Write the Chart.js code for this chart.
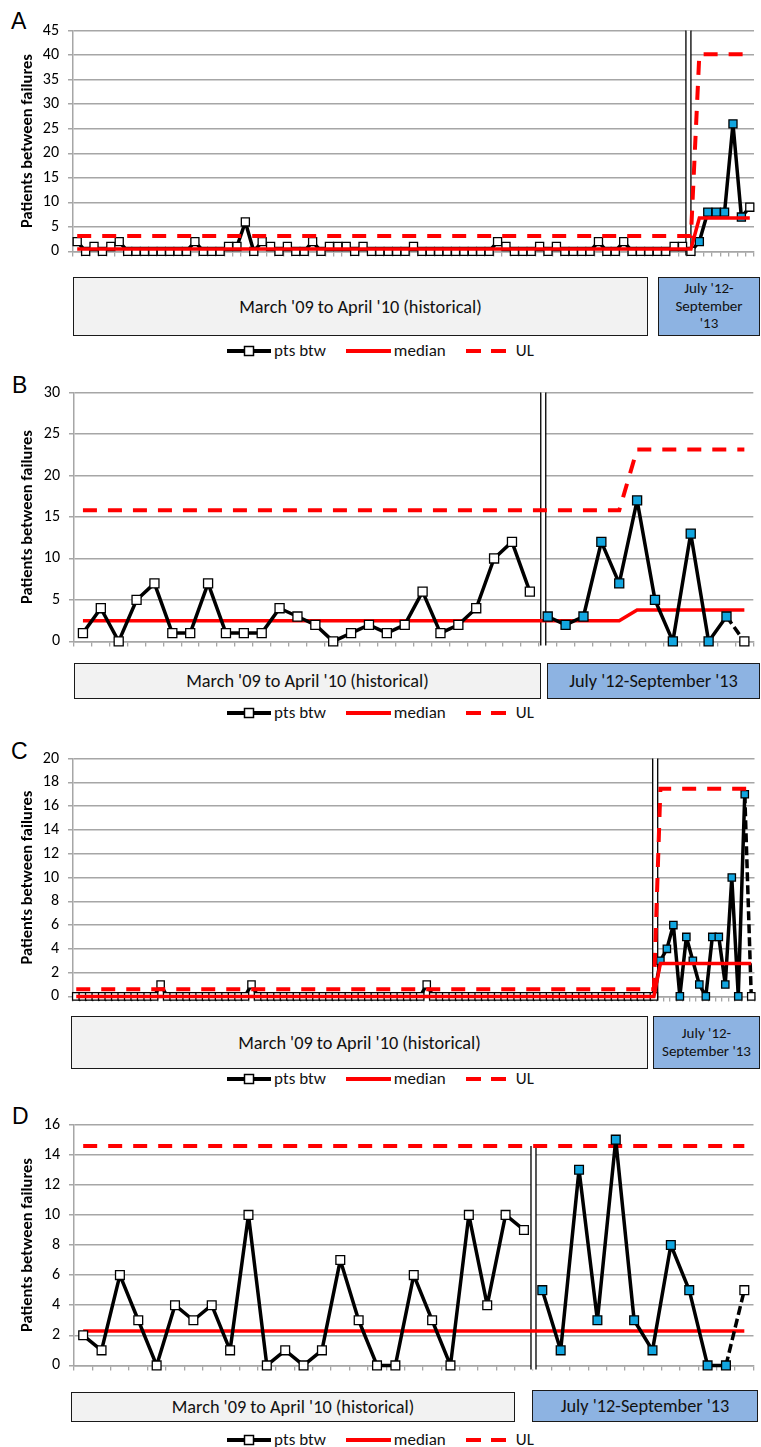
<!DOCTYPE html>
<html><head><meta charset="utf-8">
<script src="https://cdn.jsdelivr.net/npm/chart.js@4.4.1/dist/chart.umd.min.js"></script>
<style>
html,body{margin:0;padding:0;background:#fff;}
body{width:761px;height:1447px;position:relative;overflow:hidden;font-family:Carlito,Lato,sans-serif;color:#111;}
.letter{position:absolute;font-family:"Liberation Sans",Arial,sans-serif;font-size:23px;line-height:23px;color:#000;}
canvas{position:absolute;left:0;}
.box{position:absolute;box-sizing:border-box;border:1.5px solid #1a1a1a;display:flex;align-items:center;justify-content:center;text-align:center;font-size:18.3px;line-height:20px;color:#111;}
.box.small{font-size:15px;line-height:17.5px;}
.hist{background:#f2f2f2;}
.post{background:#8db3e2;}
.legend{position:absolute;left:0;width:761px;height:20px;display:flex;justify-content:center;align-items:center;font-size:17px;line-height:20px;color:#111;}
.legend span.t{margin-left:3px;margin-right:20px;}
.legend span.t:last-child{margin-right:0;}
.legend svg{display:block;}
</style></head>
<body>
<div class="letter" style="left:11px;top:10px">A</div>
<div class="letter" style="left:12px;top:374px">B</div>
<div class="letter" style="left:11px;top:740px">C</div>
<div class="letter" style="left:12px;top:1105px">D</div>

<canvas id="cA" width="761" height="258" style="top:12px"></canvas>
<canvas id="cB" width="761" height="286" style="top:374px"></canvas>
<canvas id="cC" width="761" height="275" style="top:740px"></canvas>
<canvas id="cD" width="761" height="278" style="top:1106px"></canvas>

<div class="box hist" style="left:73px;top:277px;width:575px;height:59px">March '09 to April '10 (historical)</div>
<div class="box post small" style="left:658px;top:277px;width:102px;height:59px">July '12-<br>September<br>'13</div>

<div class="box hist" style="left:74px;top:663px;width:467px;height:36px">March '09 to April '10 (historical)</div>
<div class="box post" style="left:547px;top:663px;width:213px;height:36px">July '12-September '13</div>

<div class="box hist" style="left:71px;top:1016px;width:577px;height:53px">March '09 to April '10 (historical)</div>
<div class="box post small" style="left:653px;top:1016px;width:107px;height:53px">July '12-<br>September '13</div>

<div class="box hist" style="left:71px;top:1392px;width:444px;height:30px">March '09 to April '10 (historical)</div>
<div class="box post" style="left:532px;top:1390px;width:226px;height:32px">July '12-September '13</div>

<div id="legends"></div>

<script>
// ---------------- DATA ----------------
const seriesNames = ['pts btw', 'median', 'UL'];
const yTitle = 'Patients between failures';

// Panel A (81 points)
const valuesA = [2,0,1,0,1,2,0,0,0,0,
                 0,0,0,0,2,0,0,0,1,1,
                 6,0,2,1,0,1,0,0,2,0,
                 1,1,1,0,1,0,0,0,0,0,
                 1,0,0,0,0,0,0,0,0,0,
                 2,1,0,0,0,1,0,1,0,0,
                 0,0,2,0,0,2,0,0,0,0,
                 0,1,1,0,2,8,8,8,26,7,
                 9];
const medianA = [[0,0.5],[73,0.5],[74,6.8],[80,6.8]];
const ulA = [[0,3.15],[73,3.15],[74,40.2],[80,40.2]];
const blueA = [74,79];
const ticksA = {max:45, step:5};

// Panel B (38 points)
const valuesB = [1,4,0,5,7,1,1,7,1,1,
                 1,4,3,2,0,1,2,1,2,6,
                 1,2,4,10,12,6,3,2,3,12,
                 7,17,5,0,13,0,3,0];
const medianB = [[0,2.5],[30,2.5],[31,3.8],[37,3.8]];
const ulB = [[0,15.8],[30,15.8],[31,23.15],[37,23.15]];
const blueB = [26,36];
const ticksB = {max:30, step:5};

// Panel C (105 points)
const valuesC = [0,0,0,0,0,0,0,0,0,0,
                 0,0,0,1,0,0,0,0,0,0,
                 0,0,0,0,0,0,0,1,0,0,
                 0,0,0,0,0,0,0,0,0,0,
                 0,0,0,0,0,0,0,0,0,0,
                 0,0,0,0,1,0,0,0,0,0,
                 0,0,0,0,0,0,0,0,0,0,
                 0,0,0,0,0,0,0,0,0,0,
                 0,0,0,0,0,0,0,0,0,0,
                 3,4,6,0,5,3,1,0,5,5,
                 1,10,0,17,0];
const medianC = [[0,0],[89,0],[90,2.77],[104,2.77]];
const ulC = [[0,0.6],[89,0.6],[90,17.46],[104,17.46]];
const blueC = [90,103];
const ticksC = {max:20, step:2};

// Panel D (37 points)
const valuesD = [2,1,6,3,0,4,3,4,1,10,
                 0,1,0,1,7,3,0,0,6,3,
                 0,10,4,10,9,5,1,13,3,15,
                 3,1,8,5,0,0,5];
const medianD = [[0,2.28],[36,2.28]];
const ulD = [[0,14.57],[36,14.57]];
const blueD = [25,35];
const ticksD = {max:16, step:2};

// ---------------- RENDER ----------------
const BLUE = '#12a6e0';
const GRID = '#a6a6a6';
const FONT = 'Carlito, Lato, sans-serif';

const dividerPlugin = {
  id: 'divider',
  beforeDatasetsDraw(chart, args, opts) {
    if (opts.at == null) return;
    const x = chart.scales.x.getPixelForValue(opts.at);
    const yTop = chart.scales.y.getPixelForValue(opts.top);
    const yBot = chart.chartArea.bottom + 4;
    const ctx = chart.ctx;
    ctx.save();
    ctx.fillStyle = '#fff';
    ctx.fillRect(x - 2.5, yTop, 5, yBot - yTop);
    ctx.strokeStyle = '#000';
    ctx.lineWidth = 1.3;
    ctx.beginPath();
    ctx.moveTo(x - 2.5, yTop); ctx.lineTo(x - 2.5, yBot);
    ctx.moveTo(x + 2.5, yTop); ctx.lineTo(x + 2.5, yBot);
    ctx.stroke();
    ctx.restore();
  }
};

function pts(pairs) { return pairs.map(p => ({x: p[0], y: p[1]})); }

function makeChart(id, p) {
  const n = p.values.length;
  const labels = p.values.map((_, i) => i);
  const padLeft = 17.6;
  const ptsOrder = p.redOnTop ? 3 : 0;
  new Chart(document.getElementById(id), {
    type: 'line',
    data: {
      labels: labels,
      datasets: [
        {
          label: seriesNames[0],
          data: p.values,
          borderColor: '#000',
          borderWidth: 3.5,
          borderJoinStyle: 'round',
          tension: 0,
          pointStyle: 'rect',
          pointRadius: p.r,
          pointBorderWidth: 1.3,
          pointBorderColor: '#000',
          pointBackgroundColor: c => (c.dataIndex >= p.blue[0] && c.dataIndex <= p.blue[1]) ? BLUE : '#fff',
          order: ptsOrder,
          clip: false,
          segment: {
            borderColor: c => (p.gap != null && c.p0DataIndex === p.gap) ? 'rgba(0,0,0,0)' : undefined,
            borderDash: c => (c.p1DataIndex === n - 1) ? [9, 4] : undefined
          }
        },
        {
          label: seriesNames[1],
          data: pts(p.median),
          borderColor: '#ff0000',
          borderWidth: 3.5,
          pointRadius: 0,
          tension: 0,
          order: 1,
          clip: false
        },
        {
          label: seriesNames[2],
          data: pts(p.ul),
          borderColor: '#ff0000',
          borderWidth: 4,
          borderDash: [14, 11],
          pointRadius: 0,
          tension: 0,
          order: 2,
          clip: false
        }
      ]
    },
    options: {
      responsive: false,
      animation: false,
      devicePixelRatio: 1,
      events: [],
      layout: {padding: {left: padLeft, top: 12, right: 0, bottom: 0}},
      plugins: {
        legend: {display: false},
        tooltip: {enabled: false},
        divider: {at: p.dividerAt, top: p.dividerTop}
      },
      scales: {
        x: {
          type: 'category',
          offset: true,
          grid: {offset: true, drawOnChartArea: false, drawTicks: true, tickLength: 5, color: GRID, lineWidth: 1.3},
          border: {display: true, color: GRID, width: 1.5},
          ticks: {display: false, autoSkip: false},
          afterFit: s => { s.height = 8; }
        },
        y: {
          min: 0, max: p.ticks.max,
          ticks: {stepSize: p.ticks.step, padding: 9, color: '#000', font: {family: FONT, size: 16}},
          grid: {color: GRID, lineWidth: 1.5, tickLength: 5},
          border: {display: true, color: GRID, width: 1.5},
          title: {display: true, text: yTitle, color: '#000', padding: {top: 0, bottom: 0},
                  font: {family: FONT, size: 16.5, weight: 'bold'}},
          afterFit: s => { s.width = p.left - padLeft; }
        }
      }
    },
    plugins: [dividerPlugin]
  });
}

makeChart('cA', {values: valuesA, median: medianA, ul: ulA, blue: blueA, ticks: ticksA, left: 73, r: 5.7,
                 redOnTop: true, gap: null, dividerAt: 72.7, dividerTop: 45});
makeChart('cB', {values: valuesB, median: medianB, ul: ulB, blue: blueB, ticks: ticksB, left: 74, r: 6.4,
                 redOnTop: false, gap: 25, dividerAt: 25.75, dividerTop: 30});
makeChart('cC', {values: valuesC, median: medianC, ul: ulC, blue: blueC, ticks: ticksC, left: 73, r: 5.2,
                 redOnTop: true, gap: null, dividerAt: 89.2, dividerTop: 20});
makeChart('cD', {values: valuesD, median: medianD, ul: ulD, blue: blueD, ticks: ticksD, left: 74, r: 6.2,
                 redOnTop: false, gap: 24, dividerAt: 24.52, dividerTop: 14.57});

// Legends
const legendY = [341, 703, 1069, 1430];
const legendHTML =
  '<svg width="44" height="12"><line x1="0" y1="6" x2="44" y2="6" stroke="#000" stroke-width="4"/>' +
  '<rect x="17.5" y="1.5" width="9" height="9" fill="#fff" stroke="#000" stroke-width="1.5"/></svg>' +
  '<span class="t">' + seriesNames[0] + '</span>' +
  '<svg width="45" height="12"><line x1="0" y1="6" x2="45" y2="6" stroke="#ff0000" stroke-width="4"/></svg>' +
  '<span class="t">' + seriesNames[1] + '</span>' +
  '<svg width="40" height="12"><line x1="0" y1="6" x2="40" y2="6" stroke="#ff0000" stroke-width="4" stroke-dasharray="15 10"/></svg>' +
  '<span class="t" style="margin-left:10px">' + seriesNames[2] + '</span>';
const lg = document.getElementById('legends');
legendY.forEach(y => {
  const d = document.createElement('div');
  d.className = 'legend';
  d.style.top = y + 'px';
  d.innerHTML = legendHTML;
  lg.appendChild(d);
});
</script>
</body></html>
